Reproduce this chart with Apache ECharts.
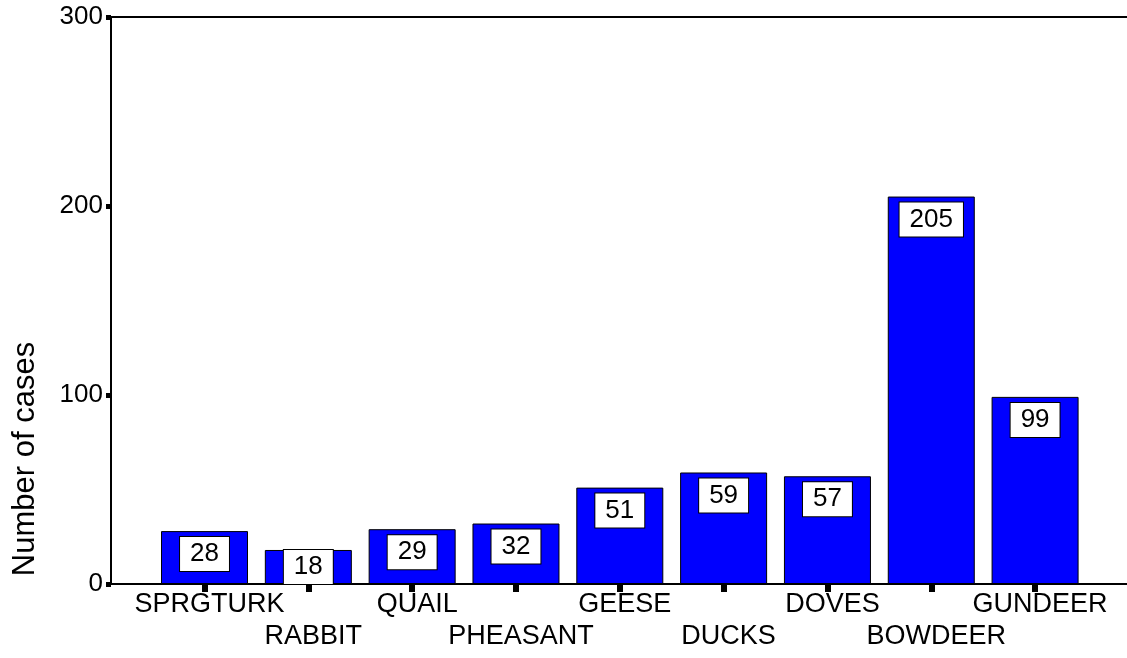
<!DOCTYPE html>
<html>
<head>
<meta charset="utf-8">
<script src="https://cdn.jsdelivr.net/npm/echarts@6/dist/echarts.min.js"></script>
<style>
html, body { margin: 0; padding: 0; background: #fff; }
#chart { width: 1127px; height: 658px; }
</style>
</head>
<body>
<div id="chart"></div>
<script>
var categories = ["SPRGTURK", "RABBIT", "QUAIL", "PHEASANT", "GEESE", "DUCKS", "DOVES", "BOWDEER", "GUNDEER"];
var cases = [28, 18, 29, 32, 51, 59, 57, 205, 99];
var yTicks = [0, 100, 200, 300];

var font = 'Arial, "Liberation Sans", sans-serif';

function ech() {
    var chart = echarts.init(document.getElementById("chart"));
    var barData = cases.map(function (v) {
        var item = { value: v };
        // short bars: box sits on the bar top
        if (v < 20) item.label = { distance: 0 };
        return item;
    });
    var e = {
        animation: false,
        backgroundColor: "#fff",
        textStyle: { fontFamily: font },
        grid: [
            { left: 152.6, right: 40, top: 17, bottom: 74 },
            { left: 111, right: 0, top: 17, bottom: 74 }
        ],
        xAxis: [{
            type: "category",
            gridIndex: 0,
            data: categories,
            z: 5,
            axisLine: { show: true, lineStyle: { color: "#000", opacity: 0 } },
            axisTick: {
                show: true,
                alignWithLabel: true,
                length: 8,
                lineStyle: { color: "#000", width: 6 }
            },
            axisLabel: {
                interval: 0,
                color: "#000",
                fontSize: 27,
                fontFamily: font,
                lineHeight: 32,
                margin: 5,
                padding: [0, 0, 0, 10],
                formatter: function (v, i) {
                    return i % 2 ? "\n" + v : v;
                }
            }
        }, {
            type: "value",
            gridIndex: 1,
            position: "bottom",
            min: 0,
            max: 1,
            axisLine: { show: true, lineStyle: { color: "#000", width: 2 } },
            axisTick: { show: false },
            axisLabel: { show: false },
            splitLine: { show: false }
        }, {
            type: "value",
            gridIndex: 1,
            position: "top",
            min: 0,
            max: 1,
            axisLine: { show: true, lineStyle: { color: "#000", width: 2 } },
            axisTick: { show: false },
            axisLabel: { show: false },
            splitLine: { show: false }
        }],
        yAxis: [{
            type: "value",
            gridIndex: 0,
            min: yTicks[0],
            max: yTicks[yTicks.length - 1],
            interval: 100,
            offset: 41.6,
            axisLine: { show: true, lineStyle: { color: "#000", width: 2 } },
            axisTick: { show: true, length: 5, lineStyle: { color: "#000", width: 5 } },
            axisLabel: { color: "#000", fontSize: 26, fontFamily: font, margin: 8, padding: [3, 0, 0, 0] },
            splitLine: { show: false }
        }, {
            type: "value",
            gridIndex: 1,
            show: false
        }],
        graphic: [{
            type: "text",
            x: 25,
            y: 459,
            rotation: Math.PI / 2,
            style: {
                text: "Number of cases",
                fontSize: 31,
                fontFamily: font,
                fill: "#000",
                textAlign: "center",
                textVerticalAlign: "middle"
            }
        }],
        series: [{
            type: "bar",
            xAxisIndex: 0,
            yAxisIndex: 0,
            barWidth: 87,
            data: barData,
            itemStyle: { color: "#0000ff", borderColor: "#000", borderWidth: 1 },
            label: {
                show: true,
                position: "insideTop",
                distance: 6,
                color: "#000",
                fontSize: 26,
                fontFamily: font,
                lineHeight: 30,
                backgroundColor: "#fff",
                borderColor: "#000",
                borderWidth: 1,
                padding: [2, 10]
            }
        }]
    };
    chart.setOption(e);
}
ech();
</script>
</body>
</html>
